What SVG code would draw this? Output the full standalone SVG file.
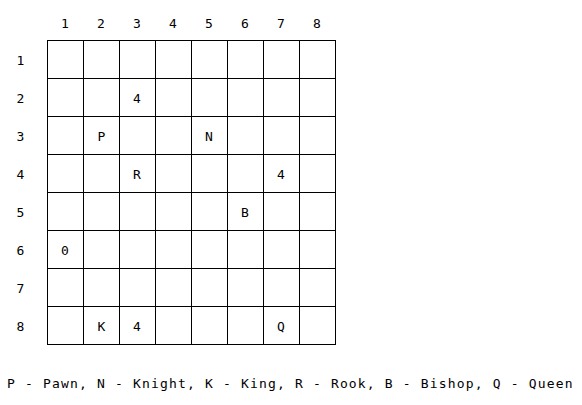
<svg xmlns="http://www.w3.org/2000/svg" width="582" height="405" viewBox="0 0 582 405">
<style>
text{font-family:"DejaVu Sans Mono","Liberation Mono",monospace;font-size:13px;fill:#000}
.c{text-anchor:middle}
.g line{stroke:#000;stroke-width:1}
</style>
<rect width="582" height="405" fill="#fff"/>
<g id="grid" class="g">
<line x1="47.5" y1="40" x2="47.5" y2="344"/>
<line x1="83.5" y1="40" x2="83.5" y2="344"/>
<line x1="119.5" y1="40" x2="119.5" y2="344"/>
<line x1="155.5" y1="40" x2="155.5" y2="344"/>
<line x1="191.5" y1="40" x2="191.5" y2="344"/>
<line x1="227.5" y1="40" x2="227.5" y2="344"/>
<line x1="263.5" y1="40" x2="263.5" y2="344"/>
<line x1="299.5" y1="40" x2="299.5" y2="344"/>
<line x1="335.5" y1="40" x2="335.5" y2="344"/>
<line x1="47" y1="40.5" x2="336" y2="40.5"/>
<line x1="47" y1="78.5" x2="336" y2="78.5"/>
<line x1="47" y1="116.5" x2="336" y2="116.5"/>
<line x1="47" y1="154.5" x2="336" y2="154.5"/>
<line x1="47" y1="192.5" x2="336" y2="192.5"/>
<line x1="47" y1="230.5" x2="336" y2="230.5"/>
<line x1="47" y1="268.5" x2="336" y2="268.5"/>
<line x1="47" y1="306.5" x2="336" y2="306.5"/>
<line x1="47" y1="344.5" x2="336" y2="344.5"/>
</g>
<g id="col-labels">
<text class="c" x="65" y="28">1</text>
<text class="c" x="101" y="28">2</text>
<text class="c" x="137" y="28">3</text>
<text class="c" x="173" y="28">4</text>
<text class="c" x="209" y="28">5</text>
<text class="c" x="245" y="28">6</text>
<text class="c" x="281" y="28">7</text>
<text class="c" x="317" y="28">8</text>
</g>
<g id="row-labels">
<text class="c" x="20.5" y="64.5">1</text>
<text class="c" x="20.5" y="102.5">2</text>
<text class="c" x="20.5" y="140.5">3</text>
<text class="c" x="20.5" y="178.5">4</text>
<text class="c" x="20.5" y="216.5">5</text>
<text class="c" x="20.5" y="254.5">6</text>
<text class="c" x="20.5" y="292.5">7</text>
<text class="c" x="20.5" y="330.5">8</text>
</g>
<g id="cells">
<text class="c" x="137" y="102.5">4</text>
<text class="c" x="101.5" y="140.5">P</text>
<text class="c" x="209" y="140.5">N</text>
<text class="c" x="137" y="178.5">R</text>
<text class="c" x="281" y="178.5">4</text>
<text class="c" x="245" y="216.5">B</text>
<text class="c" x="65" y="254.5">0</text>
<text class="c" x="101.5" y="330.5">K</text>
<text class="c" x="137" y="330.5">4</text>
<text class="c" x="281" y="330.5">Q</text>
</g>
<g id="legend">
<text x="7" y="388" style="letter-spacing:1.17px">P - Pawn, N - Knight, K - King, R - Rook, B - Bishop, Q - Queen</text>
</g>
</svg>
